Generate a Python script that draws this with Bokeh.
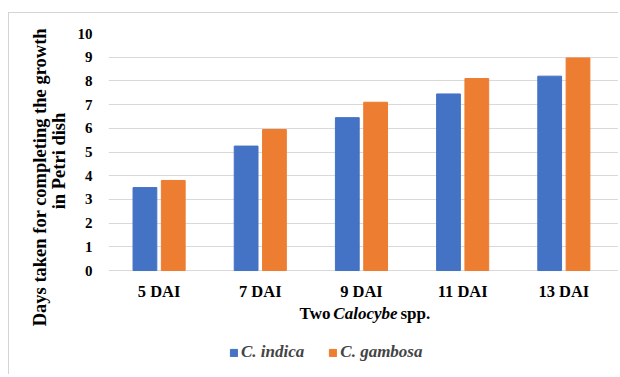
import numpy as np
from bokeh.plotting import figure
from bokeh.models import Range1d, FixedTicker, Label, Legend, LegendItem, ColumnDataSource
from bokeh.core.properties import value
from bokeh.embed import file_html
from bokeh.resources import INLINE

categories = ["5 DAI", "7 DAI", "9 DAI", "11 DAI", "13 DAI"]
indica = [3.5, 5.25, 6.45, 7.45, 8.2]
gambosa = [3.8, 5.95, 7.1, 8.1, 8.97]
y_ticks = [0, 1, 2, 3, 4, 5, 6, 7, 8, 9, 10]

FONT = "'Liberation Serif'"
BLUE = "#4472C4"
ORANGE = "#ED7D31"

xc = np.arange(len(categories)) + 0.5
src = ColumnDataSource(dict(x1=xc - 0.14, x2=xc + 0.14, a=indica, b=gambosa))
cat_src = ColumnDataSource(dict(x=xc, y=[0] * len(categories), t=categories))

p = figure(width=610, height=362, output_backend="svg", toolbar_location=None,
           x_range=Range1d(0, len(categories) + 0.05), y_range=Range1d(-3.88, 10),
           min_border_left=99, min_border_right=0, min_border_top=20, min_border_bottom=13)
p.margin = (12, 0, 0, 8)
p.styles = {"border-left": "1px solid #d4d4d4", "border-top": "1px solid #d4d4d4"}
p.outline_line_color = None
p.background_fill_color = "white"
p.border_fill_color = "white"

r1 = p.vbar(x="x1", top="a", width=0.235, source=src, color=BLUE)
r2 = p.vbar(x="x2", top="b", width=0.235, source=src, color=ORANGE)

p.xaxis.visible = False
p.xgrid.grid_line_color = None
p.ygrid.grid_line_color = "#d9d9d9"
p.ygrid.grid_line_width = 1
p.yaxis.ticker = FixedTicker(ticks=y_ticks)
ax = p.yaxis[0]
ax.axis_line_color = None
ax.major_tick_line_color = None
ax.minor_tick_line_color = None
ax.major_label_text_font = FONT
ax.major_label_text_font_style = "bold"
ax.major_label_text_color = "black"
ax.major_label_text_font_size = "15px"
ax.major_label_standoff = 10
nb = "\u00a0"
ax.axis_label = nb * 9 + "Days taken for completing the growth\n" + nb * 16 + "in Petri dish"
ax.axis_label_text_font = FONT
ax.axis_label_text_font_style = "bold"
ax.axis_label_text_font_size = "18.5px"
ax.axis_label_text_color = "black"
ax.axis_label_text_line_height = 0.92
ax.axis_label_standoff = 6

# category labels under the bars
p.text(x="x", y="y", text="t", source=cat_src, y_offset=21, text_align="center",
       text_baseline="middle", text_font=value(FONT), text_font_style="bold",
       text_font_size="16.5px", text_color="black")

# x-axis title with italic genus name
xt_y = -1.81
for txt, off, align, style in [("Two", -31, "right", "bold"),
                               ("Calocybe", 4, "center", "bold italic"),
                               ("spp.", 39, "left", "bold")]:
    p.add_layout(Label(x=2.5, y=xt_y, x_offset=off, text=txt, text_align=align,
                       text_baseline="middle", text_font=FONT, text_font_style=style,
                       text_font_size="17px", text_color="black"))

legend = Legend(items=[LegendItem(label="C. indica", renderers=[r1]),
                       LegendItem(label="C. gambosa", renderers=[r2])],
                orientation="horizontal", location=(121, 0),
                label_text_font=FONT, label_text_font_style="bold italic",
                label_text_font_size="17px", glyph_width=9, glyph_height=9,
                label_standoff=3, spacing=24, padding=0, margin=0,
                border_line_color=None, background_fill_alpha=0, label_height=17)
p.add_layout(legend, "center")

open("out.html", "w").write(file_html(p, INLINE))
